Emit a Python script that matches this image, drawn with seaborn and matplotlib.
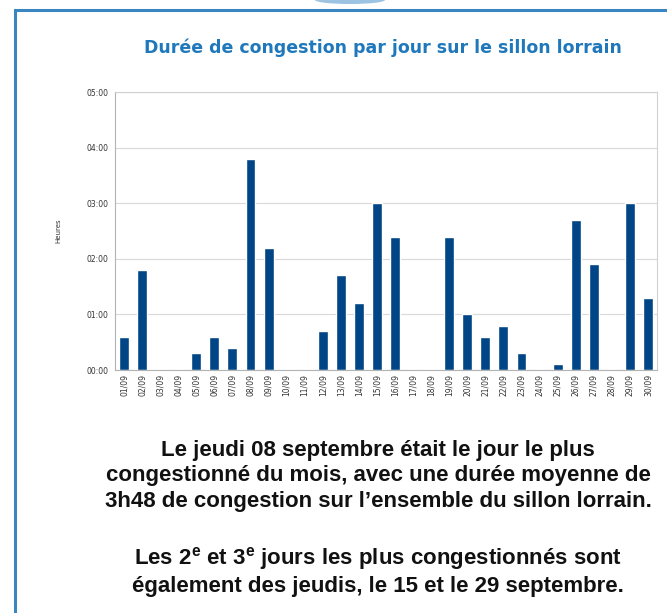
import pandas as pd
import matplotlib
matplotlib.use('Agg')
import matplotlib.pyplot as plt
import seaborn as sns
from matplotlib.patches import Rectangle, Ellipse

# Données : durée moyenne de congestion par jour (en heures)
jours = ['01/09', '02/09', '03/09', '04/09', '05/09', '06/09', '07/09', '08/09',
         '09/09', '10/09', '11/09', '12/09', '13/09', '14/09', '15/09', '16/09',
         '17/09', '18/09', '19/09', '20/09', '21/09', '22/09', '23/09', '24/09',
         '25/09', '26/09', '27/09', '28/09', '29/09', '30/09']
heures = [0.6, 1.8, 0.015, 0.015, 0.3, 0.6, 0.4, 3.8,
          2.2, 0.015, 0.015, 0.7, 1.7, 1.2, 3.0, 2.4,
          0.015, 0.015, 2.4, 1.0, 0.6, 0.8, 0.3, 0.015,
          0.1, 2.7, 1.9, 0.015, 3.0, 1.3]
y_ticks = [0, 1, 2, 3, 4, 5]
y_labels = ['00:00', '01:00', '02:00', '03:00', '04:00', '05:00']

data = pd.DataFrame({'Jour': jours, 'Heures': heures})

sns.set_style('white')
plt.rcParams['mathtext.fontset'] = 'custom'
plt.rcParams['mathtext.bf'] = 'Liberation Sans:bold'
plt.rcParams['mathtext.rm'] = 'Liberation Sans'

fig = plt.figure(figsize=(6.67, 6.13), dpi=100)
W, H = 667, 613

# cadre bleu
fig.patches.append(Rectangle((15 / W, -0.1), 1.0, 1 - 10 / H + 0.1, transform=fig.transFigure,
                             fill=False, edgecolor='#3a86c1', linewidth=2.2, clip_on=False))
fig.patches.append(Ellipse((350 / W, 1.0), 70 / W, 8 / H, transform=fig.transFigure,
                           facecolor='#5b9bd0', edgecolor='none', alpha=0.6))

ax = fig.add_axes([115 / W, 1 - 370 / H, (657 - 115) / W, (370 - 92) / H])
sns.barplot(data=data, x='Jour', y='Heures', color='#004586', saturation=1,
            width=0.55, ax=ax)

ax.set_ylim(0, 5)
ax.set_xlim(-0.5, len(jours) - 0.5)
ax.set_yticks(y_ticks)
ax.set_yticklabels(y_labels, fontsize=5.5, color='#333333')
ax.set_xticks(range(len(jours)))
ax.set_xticklabels(jours, rotation=90, fontsize=5.5, color='#333333')
ax.yaxis.grid(True, color='#d9d9d9', linewidth=0.8)
ax.set_axisbelow(True)
for s in ax.spines.values():
    s.set_color('#d0d0d0')
    s.set_linewidth(0.8)
ax.spines['left'].set_color('#b3b3b3')
ax.spines['bottom'].set_color('#b3b3b3')
ax.tick_params(axis='y', length=3, width=0.6, color='#b3b3b3', pad=1.5)
ax.tick_params(axis='x', length=0, pad=3)
ax.set_xlabel('')
ax.set_ylabel('Heures', fontsize=5, labelpad=18, color='#333333')

fig.text(383 / W, 1 - 48 / H, 'Durée de congestion par jour sur le sillon lorrain',
         ha='center', va='center', fontsize=12.5, fontweight='bold', color='#1f78bb')

txt1 = ('Le jeudi 08 septembre était le jour le plus\n'
        'congestionné du mois, avec une durée moyenne de\n'
        '3h48 de congestion sur l’ensemble du sillon lorrain.')
txt2 = ('Les 2$^{\\mathbf{e}}$ et 3$^{\\mathbf{e}}$ jours les plus congestionnés sont\n'
        'également des jeudis, le 15 et le 29 septembre.')
fig.text(378 / W, 1 - 476 / H, txt1, ha='center', va='center', fontsize=16,
         fontweight='bold', family='Liberation Sans', color='#111111', linespacing=1.3)
fig.text(378 / W, 1 - 571 / H, txt2, ha='center', va='center', fontsize=16,
         fontweight='bold', family='Liberation Sans', color='#111111', linespacing=1.3)

plt.savefig('out.png', dpi=100)
